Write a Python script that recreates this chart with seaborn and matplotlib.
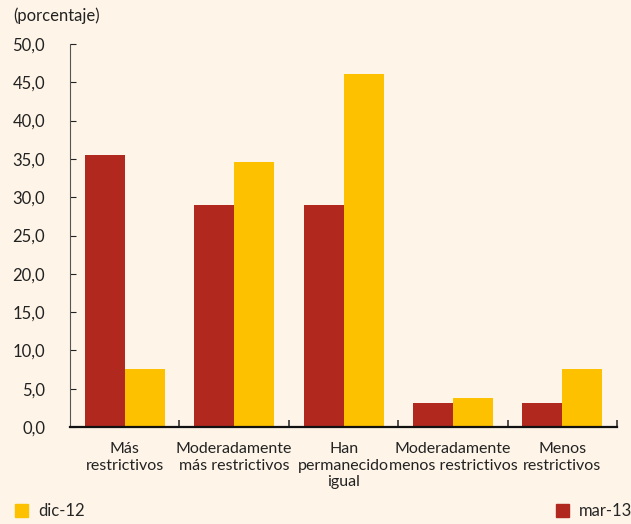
import pandas as pd
import matplotlib.pyplot as plt
import seaborn as sns
from matplotlib.patches import Patch
from matplotlib.ticker import FuncFormatter, FixedLocator

categorias = ["Más\nrestrictivos", "Moderadamente\nmás restrictivos", "Han\npermanecido\nigual",
              "Moderadamente\nmenos restrictivos", "Menos\nrestrictivos"]
mar13 = [35.5, 29.0, 29.0, 3.1, 3.1]
dic12 = [7.6, 34.6, 46.1, 3.8, 7.6]
series = ["mar-13", "dic-12"]
colores = {"mar-13": "#B0281E", "dic-12": "#FDC100"}

fondo = "#FEF5E8"
df = pd.DataFrame({
    "categoria": categorias * 2,
    "serie": ["mar-13"] * len(categorias) + ["dic-12"] * len(categorias),
    "valor": mar13 + dic12,
})

sns.set_style("ticks")
plt.rcParams["font.family"] = ["Lato", "DejaVu Sans"]

fig = plt.figure(figsize=(6.31, 5.24), dpi=100, facecolor=fondo)
ax = fig.add_axes([0.111, 0.185, 0.867, 0.731])
ax.set_facecolor(fondo)

sns.barplot(data=df, x="categoria", y="valor", hue="serie", hue_order=series,
            palette=colores, width=0.73, saturation=1, ax=ax, legend=False,
            linewidth=0)

ax.set_xlim(-0.5, 4.5)
ax.set_ylim(0, 50)
ax.set_yticks(range(0, 51, 5))
ax.yaxis.set_major_formatter(FuncFormatter(lambda v, p: f"{v:.1f}".replace(".", ",")))
ax.xaxis.set_minor_locator(FixedLocator([0.5, 1.5, 2.5, 3.5, 4.5]))
ax.tick_params(axis="x", which="major", length=0, pad=11, labelsize=11.5, colors="#222222")
ax.tick_params(axis="x", which="minor", length=5, direction="in", width=1.2, color="#333333")
ax.tick_params(axis="y", length=4, direction="in", labelsize=12, pad=18, colors="#222222")
ax.set_xlabel("")
ax.set_ylabel("")
sns.despine(ax=ax, top=True, right=True)
ax.spines["left"].set_color("#555555")
ax.spines["bottom"].set_color("#111111")
ax.spines["bottom"].set_linewidth(1.6)

fig.text(0.021, 0.97, "(porcentaje)", fontsize=12, color="#222222", va="center")

fig.legend(handles=[Patch(color=colores["dic-12"], label="dic-12")], loc="center left",
           bbox_to_anchor=(0.0, 0.024), frameon=False, fontsize=12, handlelength=0.8,
           handleheight=0.8, handletextpad=0.6)
fig.legend(handles=[Patch(color=colores["mar-13"], label="mar-13")], loc="center left",
           bbox_to_anchor=(0.857, 0.024), frameon=False, fontsize=12, handlelength=0.8,
           handleheight=0.8, handletextpad=0.6)

fig.savefig("out.png", dpi=100, facecolor=fondo)
